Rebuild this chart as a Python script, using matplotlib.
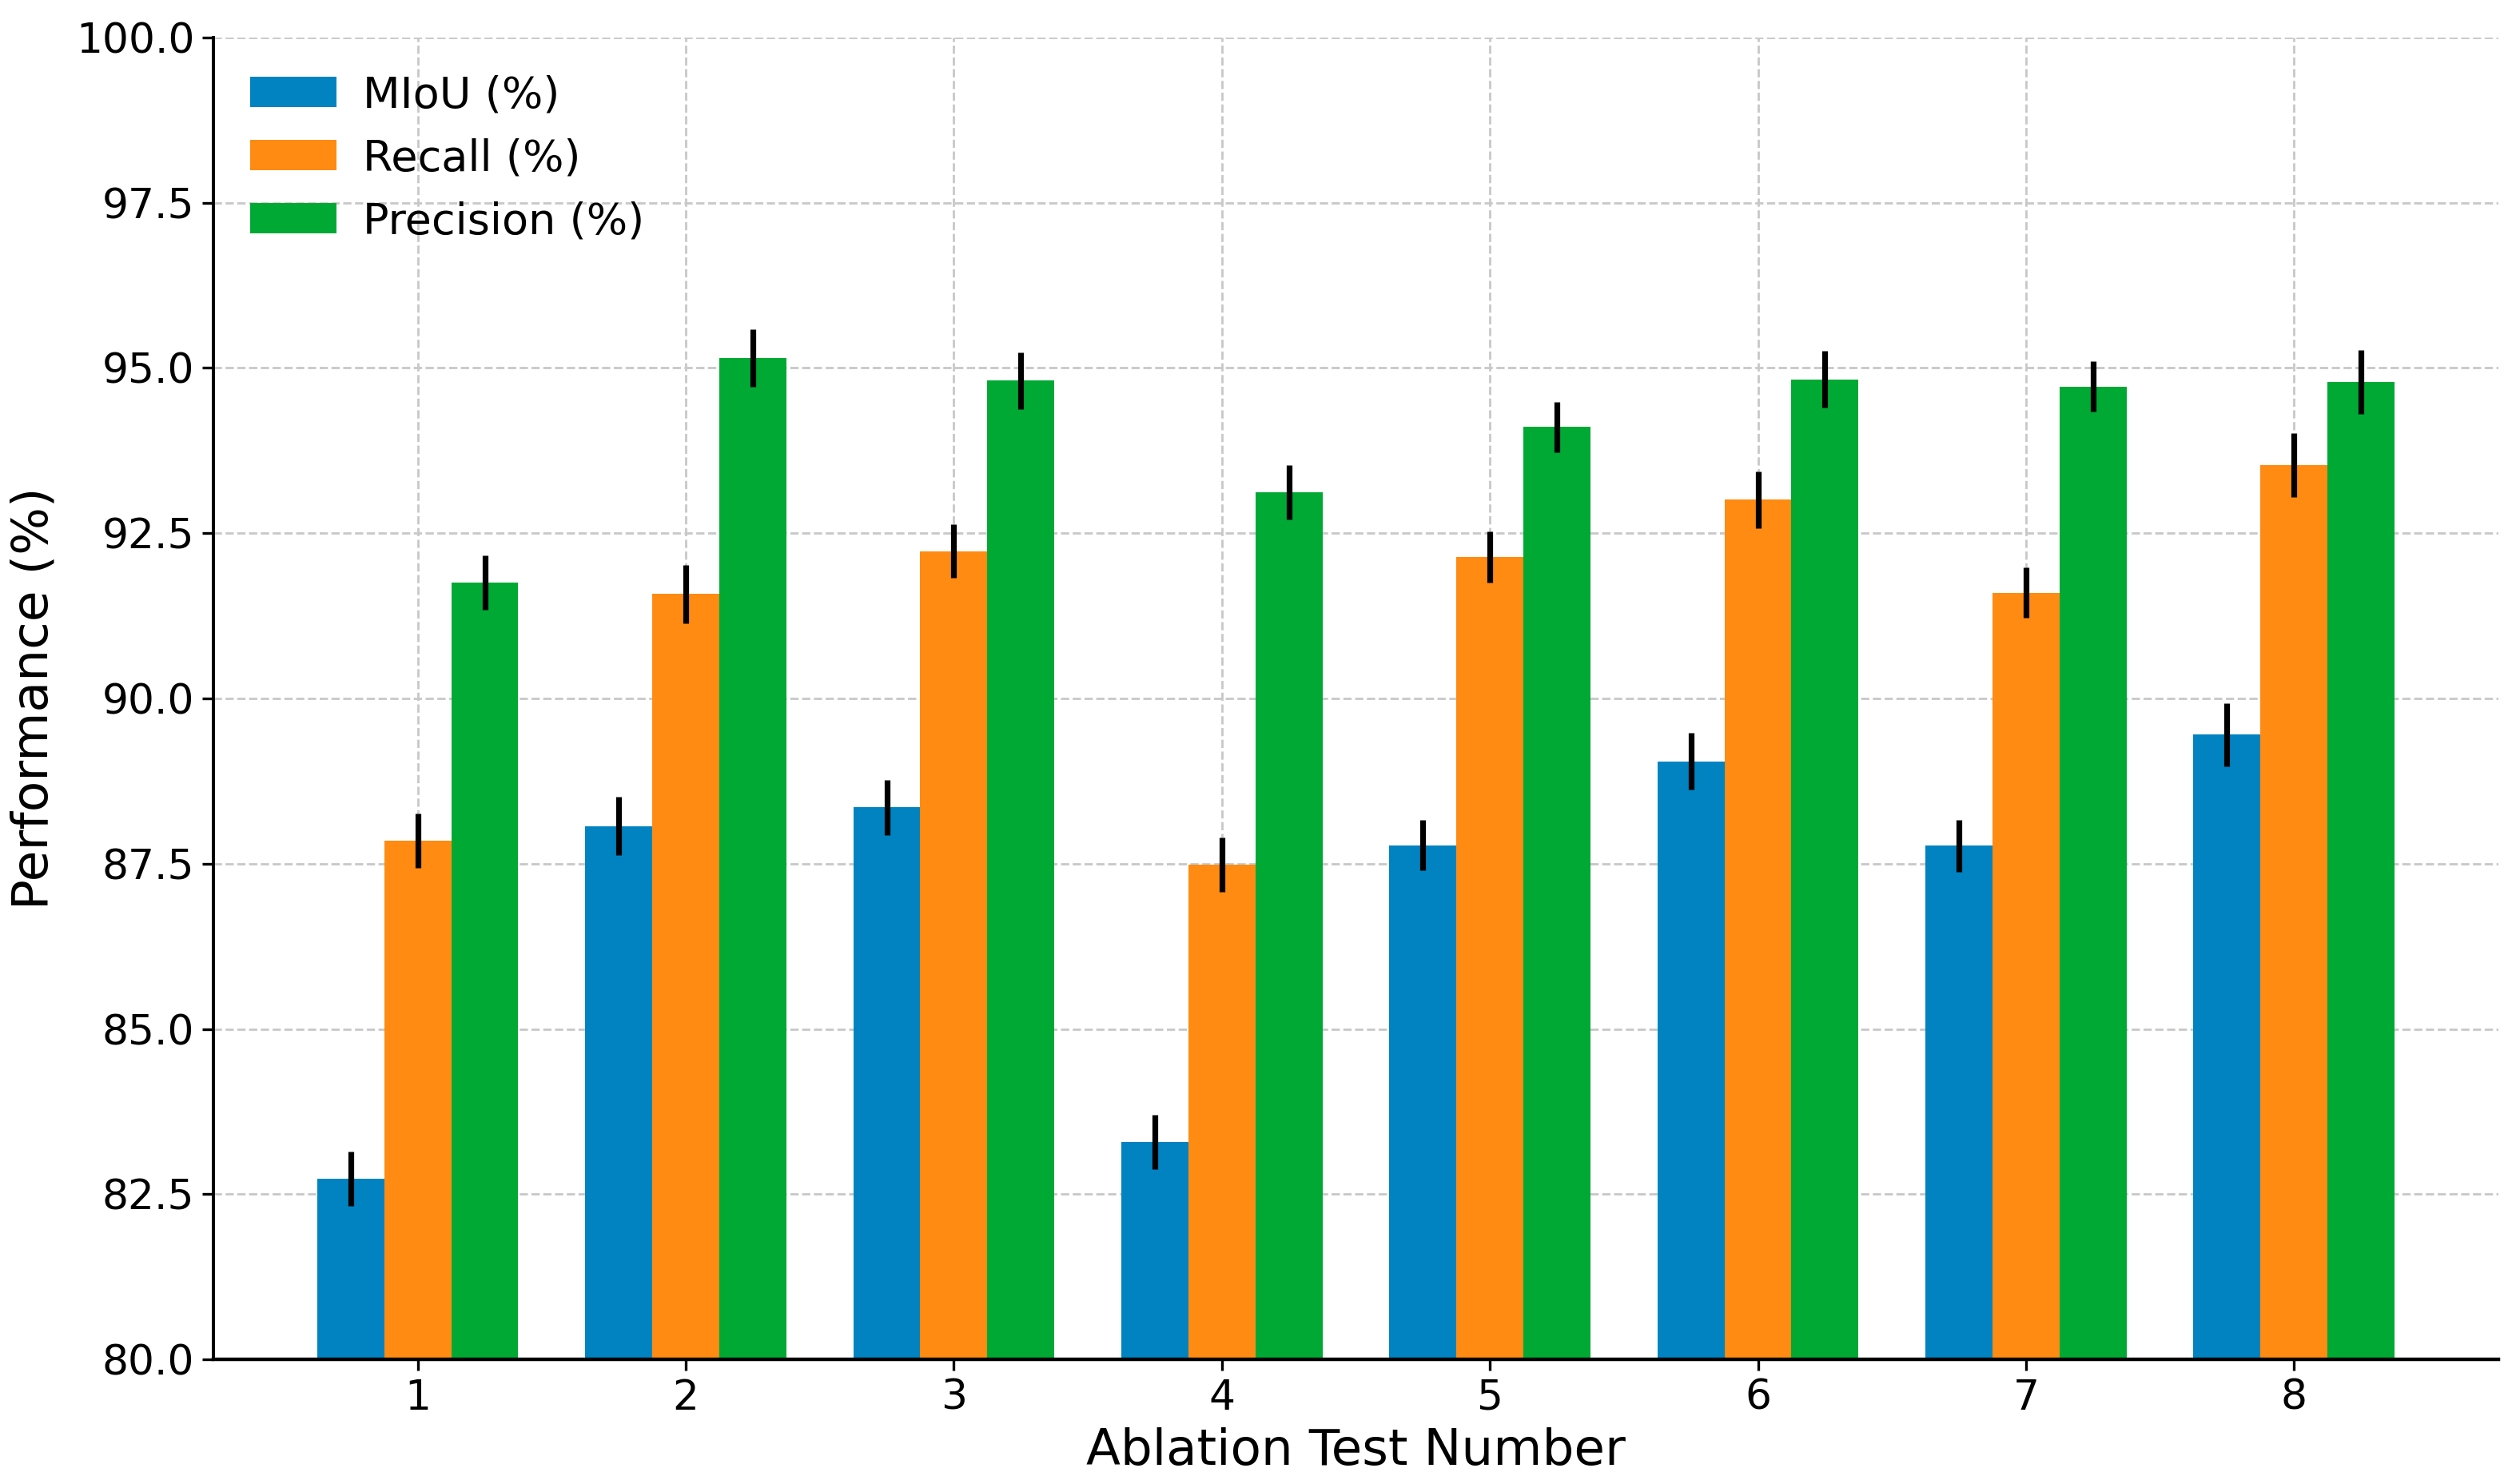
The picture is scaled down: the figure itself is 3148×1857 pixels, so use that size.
import numpy as np
import matplotlib
matplotlib.use("Agg")
import matplotlib.pyplot as plt

# values
tests = [1, 2, 3, 4, 5, 6, 7, 8]
miou = [82.73, 88.07, 88.35, 83.29, 87.78, 89.05, 87.77, 89.45]
recall = [87.85, 91.58, 92.23, 87.48, 92.14, 93.01, 91.60, 93.53]
precision = [91.75, 95.15, 94.81, 93.12, 94.11, 94.83, 94.72, 94.79]
miou_err = [0.41, 0.44, 0.42, 0.41, 0.38, 0.43, 0.39, 0.48]
recall_err = [0.41, 0.44, 0.41, 0.41, 0.39, 0.43, 0.38, 0.48]
precision_err = [0.41, 0.44, 0.43, 0.41, 0.38, 0.43, 0.38, 0.48]
yticks = [80.0, 82.5, 85.0, 87.5, 90.0, 92.5, 95.0, 97.5, 100.0]

plt.rcParams['font.family'] = ['DejaVu Sans']

fig = plt.figure(figsize=(15.74, 9.285), dpi=200)
ax = fig.add_axes([0.0848, 0.084, 0.9082, 0.8907])

x = np.array(tests)
w = 0.25
err_style = dict(ecolor='black', elinewidth=2.6, capsize=0)

ax.bar(x - w, miou, w, yerr=miou_err, color='#0083c0', label='MIoU (%)', error_kw=err_style, zorder=2)
ax.bar(x, recall, w, yerr=recall_err, color='#ff8b12', label='Recall (%)', error_kw=err_style, zorder=2)
ax.bar(x + w, precision, w, yerr=precision_err, color='#00a933', label='Precision (%)', error_kw=err_style, zorder=2)

ax.set_ylim(80, 100)
ax.set_yticks(yticks)
ax.set_yticklabels([f"{t:.1f}" for t in yticks])
ax.set_xticks(x)
ax.tick_params(labelsize=18.7, width=1.2, length=5)

ax.set_xlabel("Ablation Test Number", fontsize=22.6)
ax.set_ylabel("Performance (%)", fontsize=22.7, labelpad=8)

ax.grid(True, linestyle='--', color='#c8c8c8', linewidth=1.0, zorder=0)
ax.set_axisbelow(True)
for s in ['top', 'right']:
    ax.spines[s].set_visible(False)
ax.spines['left'].set_linewidth(1.4)
ax.spines['bottom'].set_linewidth(1.6)

ax.legend(loc='upper left', fontsize=19.5, frameon=False, handlelength=2.0,
          handletextpad=0.6, borderaxespad=0.45)

fig.savefig("out.png", dpi=200)
